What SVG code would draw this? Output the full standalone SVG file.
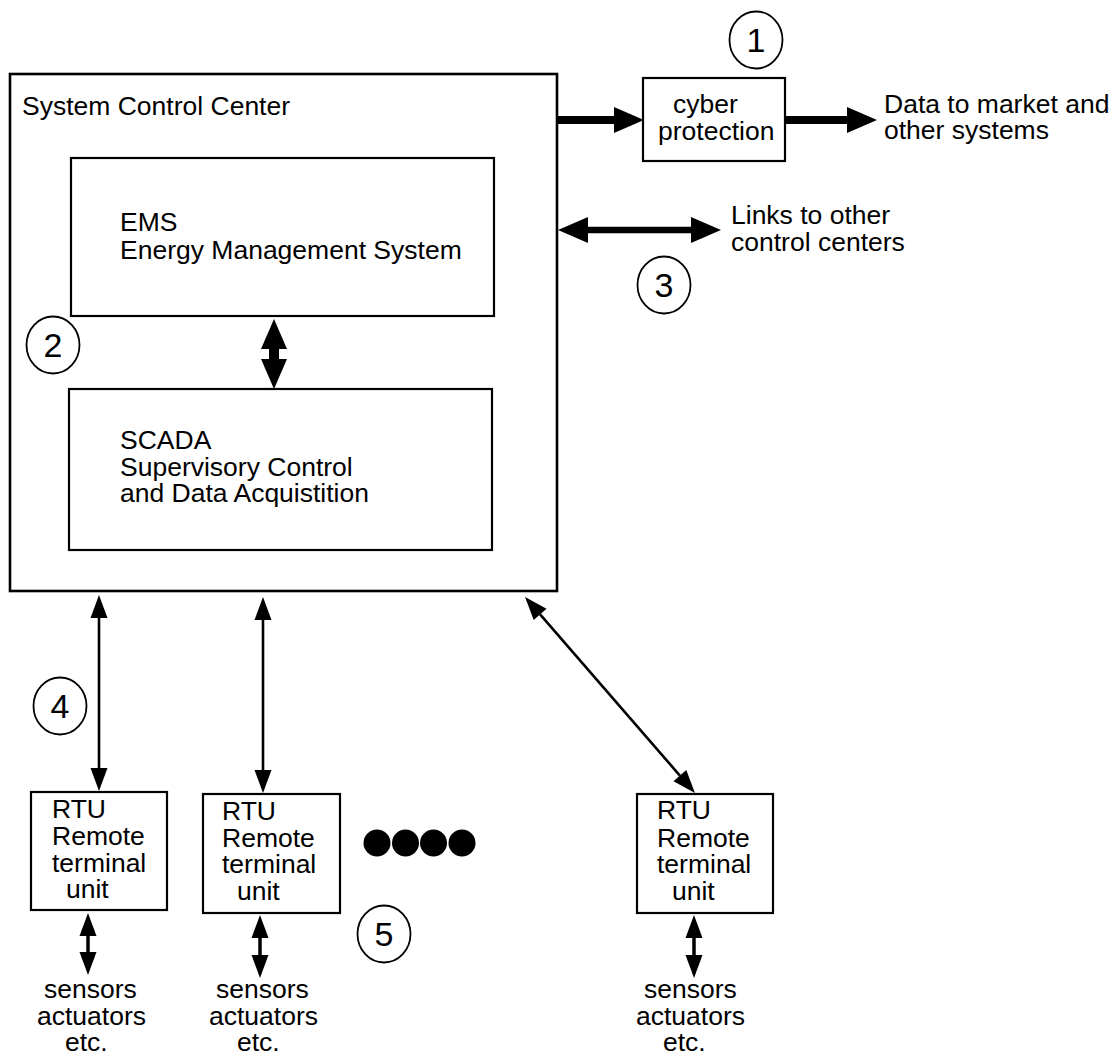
<svg xmlns="http://www.w3.org/2000/svg" width="1117" height="1055" viewBox="0 0 1117 1055">
  <style>
    .box { fill: #ffffff; stroke: #000000; stroke-width: 2.2; }
    .outer { fill: #ffffff; stroke: #000000; stroke-width: 2.6; }
    .badge { fill: #ffffff; stroke: #000000; stroke-width: 1.8; }
    .lbl { font-family: "Liberation Sans", Arial, Helvetica, sans-serif; font-size: 26.5px; fill: #000000; }
    .num { font-family: "Liberation Sans", Arial, Helvetica, sans-serif; font-size: 34px; fill: #000000; text-anchor: middle; }
    .thick { stroke: #000000; fill: none; stroke-width: 8; marker-end: url(#bigHead); }
    .thick2 { stroke: #000000; fill: none; stroke-width: 6.5; marker-start: url(#bigHead); marker-end: url(#bigHead); }
    .fat2 { stroke: #000000; fill: none; stroke-width: 10; marker-start: url(#bigHead); marker-end: url(#bigHead); }
    .thin2 { stroke: #000000; fill: none; stroke-width: 2.6; marker-start: url(#smallHead); marker-end: url(#smallHead); }
    .short2 { stroke: #000000; fill: none; stroke-width: 3.5; marker-start: url(#smallHead); marker-end: url(#smallHead); }
  </style>
  <defs>
    <!-- arrowheads: base sits on the line end, tip points outward -->
    <marker id="bigHead" markerUnits="userSpaceOnUse" viewBox="0 0 30 26" refX="0" refY="13" markerWidth="30" markerHeight="26" orient="auto-start-reverse" overflow="visible">
      <path d="M0,0 L30,13 L0,26 Z" fill="#000000"/>
    </marker>
    <marker id="smallHead" markerUnits="userSpaceOnUse" viewBox="0 0 23 17" refX="0" refY="8.5" markerWidth="23" markerHeight="17" orient="auto-start-reverse" overflow="visible">
      <path d="M0,0 L23,8.5 L0,17 Z" fill="#000000"/>
    </marker>
  </defs>

  <rect width="1117" height="1055" fill="#ffffff"/>

  <!-- control center with EMS and SCADA -->
  <g id="control-center">
    <rect class="outer" x="10" y="74" width="547" height="517"/>
    <text class="lbl" x="22" y="115">System Control Center</text>
  </g>
  <g id="ems">
    <rect class="box" x="71" y="158" width="423" height="158"/>
    <text class="lbl" x="120" y="231">EMS</text>
    <text class="lbl" x="120" y="259">Energy Management System</text>
  </g>
  <g id="scada">
    <rect class="box" x="69" y="389" width="423" height="161"/>
    <text class="lbl" x="120" y="449">SCADA</text>
    <text class="lbl" x="120" y="476">Supervisory Control</text>
    <text class="lbl" x="120" y="502">and Data Acquistition</text>
  </g>

  <g id="cyber-protection">
    <rect class="box" x="643" y="78" width="142" height="83"/>
    <text class="lbl" x="673" y="113">cyber</text>
    <text class="lbl" x="658" y="140">protection</text>
  </g>
  <g id="market-data">
    <text class="lbl" x="884" y="113">Data to market and</text>
    <text class="lbl" x="884" y="139">other systems</text>
  </g>
  <g id="other-centers">
    <text class="lbl" x="731" y="224">Links to other</text>
    <text class="lbl" x="731" y="251">control centers</text>
  </g>

  <!-- remote terminal units -->
  <g id="rtu-1">
    <rect class="box" x="31" y="792" width="136" height="118"/>
    <text class="lbl" x="52" y="818">RTU</text>
    <text class="lbl" x="52" y="845">Remote</text>
    <text class="lbl" x="52" y="872">terminal</text>
    <text class="lbl" x="66" y="898">unit</text>
  </g>
  <g id="rtu-2">
    <rect class="box" x="203" y="794" width="137" height="119"/>
    <text class="lbl" x="222" y="820">RTU</text>
    <text class="lbl" x="222" y="847">Remote</text>
    <text class="lbl" x="222" y="873">terminal</text>
    <text class="lbl" x="237" y="900">unit</text>
  </g>
  <g id="rtu-3">
    <rect class="box" x="637" y="794" width="136" height="119"/>
    <text class="lbl" x="657" y="819">RTU</text>
    <text class="lbl" x="657" y="847">Remote</text>
    <text class="lbl" x="657" y="873">terminal</text>
    <text class="lbl" x="672" y="900">unit</text>
  </g>

  <!-- field devices -->
  <g id="field-1">
    <text class="lbl" x="44" y="998">sensors</text>
    <text class="lbl" x="37" y="1025">actuators</text>
    <text class="lbl" x="65" y="1051">etc.</text>
  </g>
  <g id="field-2">
    <text class="lbl" x="216" y="998">sensors</text>
    <text class="lbl" x="209" y="1025">actuators</text>
    <text class="lbl" x="237" y="1051">etc.</text>
  </g>
  <g id="field-3">
    <text class="lbl" x="644" y="998">sensors</text>
    <text class="lbl" x="636" y="1025">actuators</text>
    <text class="lbl" x="663" y="1051">etc.</text>
  </g>

  <!-- more RTUs -->
  <g id="ellipsis">
    <circle cx="377" cy="843" r="13.5"/>
    <circle cx="405.5" cy="843" r="13.5"/>
    <circle cx="433.5" cy="843" r="13.5"/>
    <circle cx="462" cy="843" r="13.5"/>
  </g>

  <!-- numbered callouts -->
  <g id="callout-1"><ellipse class="badge" cx="756" cy="40" rx="26.5" ry="28.5"/><text class="num" x="756" y="52">1</text></g>
  <g id="callout-2"><ellipse class="badge" cx="53" cy="345" rx="26.5" ry="28.5"/><text class="num" x="53" y="357">2</text></g>
  <g id="callout-3"><ellipse class="badge" cx="664" cy="285" rx="26.5" ry="28.5"/><text class="num" x="664" y="297">3</text></g>
  <g id="callout-4"><ellipse class="badge" cx="60" cy="706" rx="26.5" ry="28.5"/><text class="num" x="60" y="718">4</text></g>
  <g id="callout-5"><ellipse class="badge" cx="384" cy="934" rx="26.5" ry="28.5"/><text class="num" x="384" y="946">5</text></g>

  <g id="connectors">
    <line class="thick" x1="557" y1="120" x2="614" y2="120"/>
    <line class="thick" x1="785" y1="120" x2="847" y2="120"/>
    <line class="thick2" x1="588" y1="230" x2="691" y2="230"/>
    <line class="fat2" x1="274" y1="349" x2="274" y2="359"/>
    <line class="thin2" x1="99" y1="618" x2="99" y2="768"/>
    <line class="thin2" x1="263" y1="620" x2="263" y2="770"/>
    <line class="thin2" x1="540.1" y1="614.4" x2="679.9" y2="775.6"/>
    <line class="short2" x1="88" y1="936" x2="88" y2="952"/>
    <line class="short2" x1="260" y1="938" x2="260" y2="955"/>
    <line class="short2" x1="694" y1="938" x2="694" y2="955"/>
  </g>
</svg>
